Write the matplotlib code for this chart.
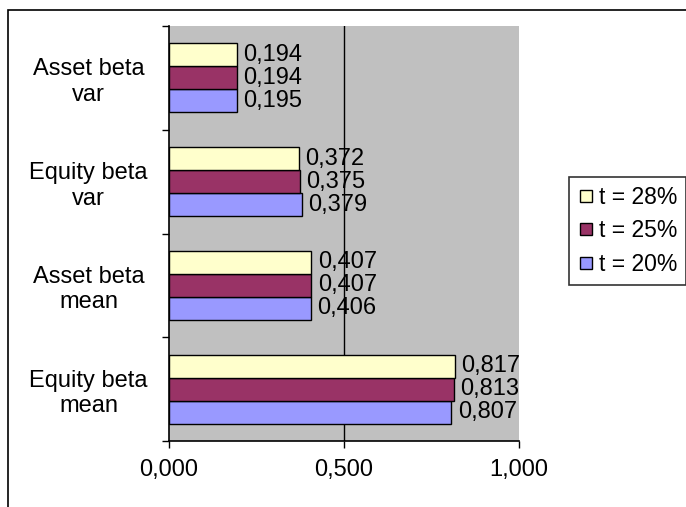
import numpy as np
import matplotlib.pyplot as plt
from matplotlib.patches import Rectangle
from matplotlib.lines import Line2D

plt.rcParams['font.family'] = ['Liberation Sans', 'DejaVu Sans']

# categories, bottom to top
categories = ['Equity beta\nmean', 'Asset beta\nmean', 'Equity beta\nvar', 'Asset beta\nvar']
series_names = ['t = 20%', 't = 25%', 't = 28%']
t20 = [0.807, 0.406, 0.379, 0.195]
t25 = [0.813, 0.407, 0.375, 0.194]
t28 = [0.817, 0.407, 0.372, 0.194]
colors = ['#9999FF', '#993366', '#FFFFCC']
xticks = [0.0, 0.5, 1.0]

fs = 17
fig = plt.figure(figsize=(6.86, 5.07), dpi=100)
ax = fig.add_axes([169 / 686, 1 - 441 / 507, 350 / 686, 415 / 507])
ax.set_facecolor('#C0C0C0')

# outer chart border (right/bottom run off the canvas)
fig.patches.append(Rectangle((8 / 686, -0.05), 1.0, 1 - 10 / 507 + 0.05,
                             transform=fig.transFigure, fill=False,
                             edgecolor='black', linewidth=1.2))

ax.axvline(0.5, color='black', linewidth=1.0, zorder=1)

y = np.arange(len(categories))
h = 1 / 4.5
for k, (vals, col) in enumerate(zip([t20, t25, t28], colors)):
    pos = y + (k - 1) * h
    ax.barh(pos, vals, height=h, color=col, edgecolor='black', linewidth=1.0, zorder=2)
    for p, v in zip(pos, vals):
        ax.text(v + 0.018, p, f'{v:.3f}'.replace('.', ','), va='center', ha='left',
                fontsize=fs, zorder=3)

ax.set_xlim(0, 1.0)
ax.set_ylim(-0.5, len(categories) - 0.5)
ax.set_xticks(xticks)
ax.set_xticklabels([f'{v:.3f}'.replace('.', ',') for v in xticks], fontsize=fs)
ax.tick_params(axis='x', direction='out', length=5, width=1.0, pad=8)

ax.set_yticks(y)
ax.set_yticklabels(categories, fontsize=fs, ha='center')
for lab in ax.get_yticklabels():
    lab.set_multialignment('center')
ax.tick_params(axis='y', which='major', length=0, pad=58)
ax.set_yticks(np.arange(-0.5, len(categories)), minor=True)
ax.tick_params(axis='y', which='minor', direction='out', length=5, width=1.0)

for s in ['top', 'right']:
    ax.spines[s].set_visible(False)
for s in ['left', 'bottom']:
    ax.spines[s].set_linewidth(1.2)

handles = [Line2D([], [], marker='s', linestyle='none', markersize=9,
                  markerfacecolor=c, markeredgecolor='black', markeredgewidth=1.0)
           for c in colors]
leg = fig.legend(handles[::-1], series_names[::-1], loc='upper left',
                 bbox_to_anchor=(569 / 686, 1 - 177 / 507), fontsize=16.5,
                 frameon=True, fancybox=False, edgecolor='black', handletextpad=0.2,
                 handlelength=0.7, borderpad=0.4, labelspacing=0.45, borderaxespad=0)
leg.get_frame().set_linewidth(1.2)

fig.savefig('out.png', dpi=100)
